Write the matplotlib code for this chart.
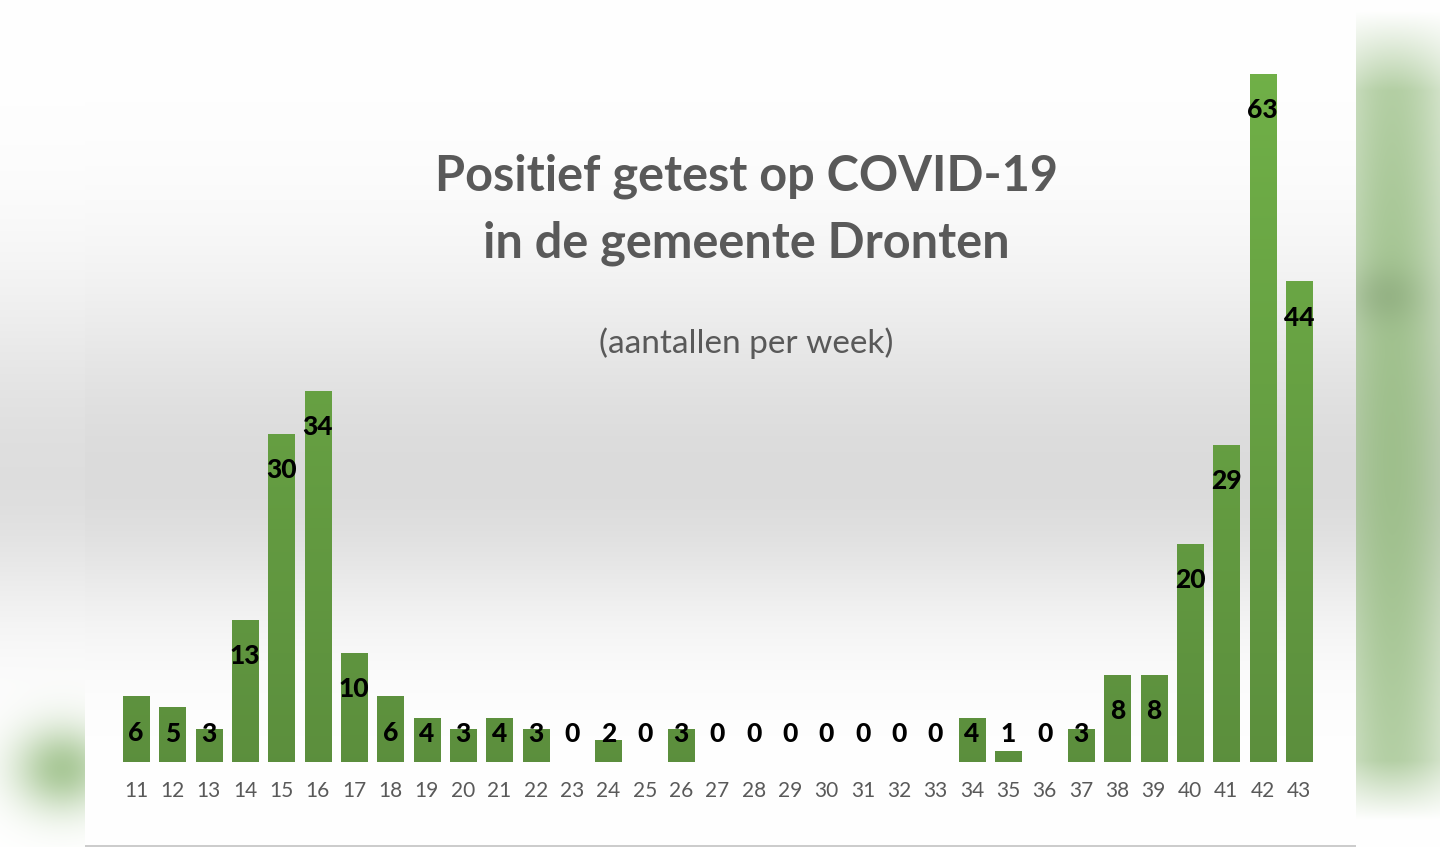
import numpy as np
import matplotlib
matplotlib.use("Agg")
import matplotlib.pyplot as plt

# weekly positive tests, municipality of Dronten
weeks = list(range(11, 44))
counts = [6, 5, 3, 13, 30, 34, 10, 6, 4, 3, 4, 3, 0, 2, 0, 3, 0, 0, 0, 0,
          0, 0, 0, 4, 1, 0, 3, 8, 8, 20, 29, 63, 44]

title_lines = ["Positief getest op COVID-19", "in de gemeente Dronten"]
subtitle = "(aantallen per week)"

W, H = 1440, 847
FONT = "Lato"


def px(x, y):
    # pixel position (from top-left) to figure fraction
    return x / W, 1 - y / H


def gauss(xx, yy, cx, cy, sx, sy):
    return np.exp(-(((xx - cx) / sx) ** 2 + ((yy - cy) / sy) ** 2) / 2)


def gray_profile(y, amp, centre=480, s_up=200, s_down=135):
    s = np.where(y < centre, s_up, s_down)
    return 1 - amp * np.exp(-((y - centre) / s) ** 2)


# background: gray vertical gradient, blurred green strips outside the panel
yy, xx = np.mgrid[0:H, 0:W].astype(float)
shade = gray_profile(yy, 0.13)
bg = np.dstack([shade, shade, shade])

green = np.array([0.56, 0.72, 0.47])
right = np.clip(gauss(xx, yy, 1392, 420, 28, 330) ** 0.35, 0, 1) * (xx > 1355)
right *= np.clip((yy - 10) / 80, 0, 1) * np.clip((820 - yy) / 60, 0, 1)
left = gauss(xx, yy, 62, 768, 34, 30) * (xx < 85)
mask = np.clip(right * 0.8 + left * 0.75, 0, 1)[..., None]
bg = bg * (1 - mask) + green * mask
dark = (gauss(xx, yy, 1385, 295, 25, 20) * (xx > 1355) * 0.3)[..., None]
bg = bg * (1 - dark) + np.array([0.45, 0.55, 0.40]) * dark

# white panel in the middle keeps the gray gradient
panel = (xx >= 85) & (xx <= 1355)
panel_shade = gray_profile(yy, 0.14)
for c in range(3):
    bg[..., c] = np.where(panel, panel_shade, bg[..., c])
bg[(yy >= 845) & panel] = 0.8

fig = plt.figure(figsize=(W / 100, H / 100), dpi=100)
ax_bg = fig.add_axes([0, 0, 1, 1])
ax_bg.imshow(bg, extent=(0, W, H, 0), aspect="auto", interpolation="bilinear")
ax_bg.set_axis_off()

# chart axes
spacing = (1299 - 136) / 32
ax_left, ax_right = 100, 1335
x0 = 11 - (136 - ax_left) / spacing
x1 = 43 + (ax_right - 1299) / spacing
ppu = (762 - 74) / 63
ymax = 68
top_px = 762 - ymax * ppu
ax = fig.add_axes([ax_left / W, (H - 762) / H, (ax_right - ax_left) / W, (762 - top_px) / H])
ax.patch.set_alpha(0)
ax.set_xlim(x0, x1)
ax.set_ylim(0, ymax)

bars = ax.bar(weeks, counts, width=0.72, color="#65a441", zorder=2)

# vertical gradient, lighter towards the top
grad = np.linspace(0, 1, 256)[:, None]
c_top = np.array([0.44, 0.69, 0.28])
c_bot = np.array([0.36, 0.56, 0.24])
grad_img = (c_bot + (c_top - c_bot) * grad[..., None]) * np.ones((256, 2, 3))
for b in bars:
    if b.get_height() <= 0:
        continue
    im = ax.imshow(grad_img, extent=(b.get_x(), b.get_x() + b.get_width(), 0, 63),
                   origin="lower", aspect="auto", zorder=3)
    im.set_clip_path(b)

for w, c in zip(weeks, counts):
    ypos = max(c - 3.3, 2.55)
    ax.text(w, ypos, str(c), ha="center", va="center", fontsize=19,
            fontweight="black", color="black", family=FONT, zorder=5)

ax.set_xticks(weeks)
ax.set_xticklabels([str(w) for w in weeks], fontsize=15, color="#595959", family=FONT)
ax.tick_params(axis="x", length=0, pad=14)
ax.set_yticks([])
for s in ax.spines.values():
    s.set_visible(False)

fig.text(*px(746, 176), title_lines[0], ha="center", va="center", fontsize=35,
         fontweight="bold", color="#595959", family=FONT)
fig.text(*px(746, 243), title_lines[1], ha="center", va="center", fontsize=35,
         fontweight="bold", color="#595959", family=FONT)
fig.text(*px(746, 343), subtitle, ha="center", va="center", fontsize=24,
         color="#595959", family=FONT)

fig.savefig("out.png", dpi=100)
